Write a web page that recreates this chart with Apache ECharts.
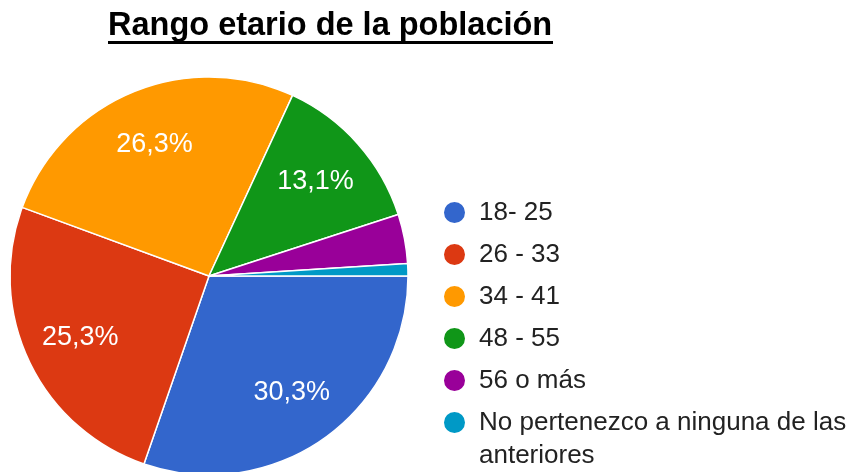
<!DOCTYPE html>
<html>
<head>
<meta charset="utf-8">
<script src="https://cdn.jsdelivr.net/npm/echarts@6/dist/echarts.min.js"></script>
<style>
  html, body { margin: 0; padding: 0; background: #fff; }
  #chart { width: 858px; height: 472px; }
</style>
</head>
<body>
<div id="chart"></div>
<script>
const titleText = 'Rango etario de la población';
const categories = ['18- 25', '26 - 33', '34 - 41', '48 - 55', '56 o más', 'No pertenezco a ninguna de las anteriores'];
const percents = [30.3, 25.3, 26.3, 13.1, 4.0, 1.0];
const colors = ['#3366cc', '#dc3912', '#ff9900', '#109618', '#990099', '#0099c6'];

const font = 'Arial, "Liberation Sans", sans-serif';
const pieData = categories.map((name, i) => ({ name: name, value: percents[i] }));

// every legend text gets three lines (blank, name, wrap-or-blank) so the
// first line of a wrapped name stays level with its marker
function legendText(name) {
    const wrapped = name.replace(' anteriores', '\nanteriores');
    return '\n' + wrapped + (wrapped === name ? '\n' : '');
}

const chart = echarts.init(document.getElementById('chart'));
const option = {
    animation: false,
    backgroundColor: '#fff',
    color: colors,
    title: {
        text: titleText,
        left: 108,
        top: 10,
        padding: 0,
        textStyle: { fontFamily: font, fontSize: 32.5, fontWeight: 'bold', color: '#000', lineHeight: 32 }
    },
    graphic: [{
        // underline of the title
        type: 'rect',
        shape: { x: 108, y: 41, width: 445, height: 3 },
        style: { fill: '#000' }
    }],
    legend: {
        orient: 'vertical',
        left: 442,
        top: 163,
        height: 2000,
        padding: 0,
        icon: 'circle',
        itemWidth: 23,
        itemHeight: 23,
        itemGap: -57,
        data: categories,
        formatter: legendText,
        textStyle: { fontFamily: font, fontSize: 26, color: '#222', lineHeight: 33, padding: [0, 0, 0, 8] }
    },
    series: [
        {
            type: 'pie',
            center: [209, 276],
            radius: [0, 199],
            startAngle: 0,
            clockwise: true,
            data: pieData,
            label: { show: false },
            labelLine: { show: false },
            itemStyle: { borderColor: '#fff', borderWidth: 1.5 },
            emphasis: { disabled: true }
        },
        {
            // label layer: places the percentages at ~70% of the radius
            type: 'pie',
            center: [209, 276],
            radius: [80, 199],
            startAngle: 0,
            clockwise: true,
            silent: true,
            legendHoverLink: false,
            avoidLabelOverlap: false,
            data: pieData,
            itemStyle: { color: 'rgba(0,0,0,0)', borderWidth: 0 },
            labelLine: { show: false },
            label: {
                show: true,
                position: 'inside',
                fontFamily: font,
                fontSize: 27,
                color: '#fff',
                formatter: p => p.value >= 5 ? p.value.toFixed(1).replace('.', ',') + '%' : ''
            },
            emphasis: { disabled: true }
        }
    ]
};
chart.setOption(option);
window.addEventListener('resize', () => chart.resize());
</script>
</body>
</html>
